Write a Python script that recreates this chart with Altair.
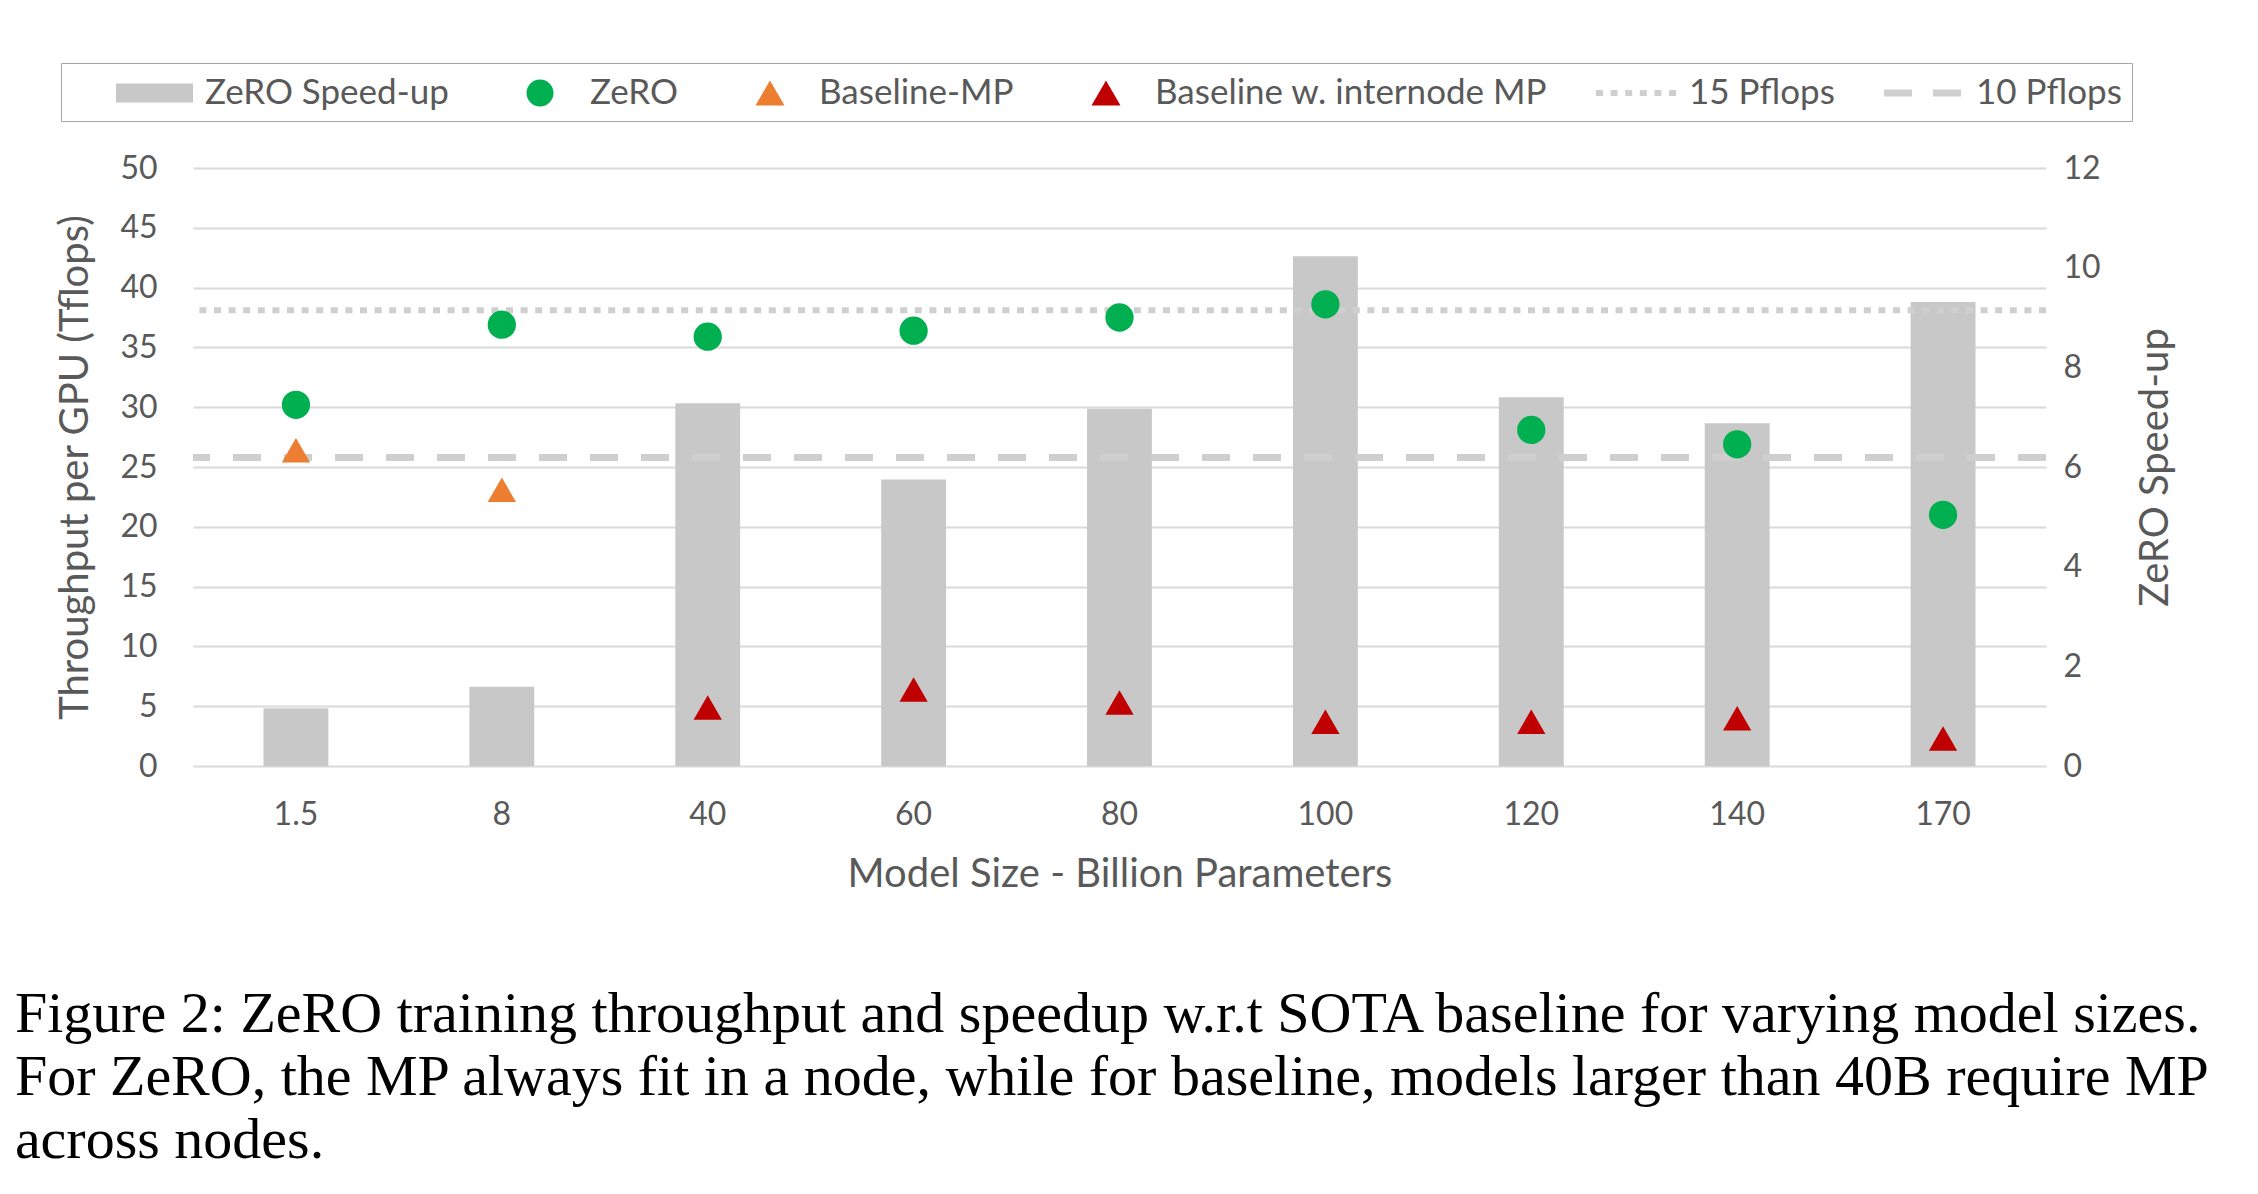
import altair as alt
import pandas as pd

# ---------------- data ----------------
categories = ["1.5", "8", "40", "60", "80", "100", "120", "140", "170"]
speedup = [1.16, 1.59, 7.28, 5.75, 7.17, 10.23, 7.40, 6.88, 9.31]
zero_tflops = [30.2, 36.9, 35.9, 36.4, 37.5, 38.6, 28.1, 26.9, 21.0]
baseline_mp = [26.4, 23.1, None, None, None, None, None, None, None]
baseline_internode = [None, None, 4.9, 6.4, 5.3, 3.7, 3.7, 4.0, 2.3]
ref_names = ["15 Pflops", "10 Pflops"]
ref_values = [38.1, 25.8]

series_names = ["ZeRO Speed-up", "ZeRO", "Baseline-MP",
                "Baseline w. internode MP", "15 Pflops", "10 Pflops"]
series_colors = ["#C8C8C8", "#00B050", "#ED7D31", "#C00000", "#CFCFCF", "#CFCFCF"]
point_series = ["ZeRO", "Baseline-MP", "Baseline w. internode MP"]
point_colors = ["#00B050", "#ED7D31", "#C00000"]
point_shapes = ["circle", "triangle-up", "triangle-up"]

caption = [
    "Figure 2:  ZeRO training throughput and speedup w.r.t SOTA baseline for varying model sizes.",
    "For ZeRO, the MP always fit in a node, while for baseline, models larger than 40B require MP",
    "across nodes.",
]

# legend glyphs (unit = 20 px; glyphs sit right of the nominal symbol box,
# labels pushed out with labelOffset)
dots = " ".join(f"M{1.05 + 0.73 * i:.2f},-0.15h0.35v0.3h-0.35Z" for i in range(6))
legend_paths = [
    "M1.25,-0.475H5.1V0.475H1.25Z",
    "M3.875,0A0.675,0.675 0 1,1 2.525,0A0.675,0.675 0 1,1 3.875,0Z",
    "M3.25,-0.625L3.975,0.625L2.525,0.625Z",
    "M3.25,-0.625L3.975,0.625L2.525,0.625Z",
    dots,
    "M1.1,-0.17H2.5V0.17H1.1Z M3.55,-0.17H4.95V0.17H3.55Z",
]

# ---------------- tables ----------------
bar_df = pd.DataFrame({"category": categories, "speedup": speedup})
rows = []
for name, vals in zip(point_series, [zero_tflops, baseline_mp, baseline_internode]):
    for c, v in zip(categories, vals):
        if v is not None:
            rows.append({"category": c, "series": name, "value": v})
pt_df = pd.DataFrame(rows)
ref_df = pd.DataFrame({"name": ref_names, "value": ref_values})
legend_df = pd.DataFrame({"series": series_names})

TXT = "#595959"
FONT = "Lato"

x_enc = alt.X(
    "category:N",
    scale=alt.Scale(type="band", domain=categories, paddingInner=0, paddingOuter=0),
    sort=None,
    axis=alt.Axis(labelAngle=0, domain=False, ticks=False, grid=False,
                  labelFontSize=32, labelPadding=33, labelColor=TXT, labelFont=FONT,
                  titleFontSize=40, titlePadding=24, titleColor=TXT, titleFont=FONT,
                  titleFontWeight="normal"),
    title="Model Size - Billion Parameters",
)

bars = alt.Chart(bar_df).mark_bar(color="#C8C8C8", width=alt.RelativeBandSize(0.315)).encode(
    x=x_enc,
    y=alt.Y("speedup:Q", scale=alt.Scale(domain=[0, 12]),
            axis=alt.Axis(orient="right", values=[0, 2, 4, 6, 8, 10, 12], grid=False,
                          domain=False, ticks=False, labelFontSize=32, labelPadding=17,
                          labelColor=TXT, labelFont=FONT, title="ZeRO Speed-up",
                          titleAngle=270, titleBaseline="top", titleFontSize=40,
                          titlePadding=35, titleColor=TXT, titleFont=FONT,
                          titleFontWeight="normal")),
)

dotted = alt.Chart(ref_df).transform_filter(alt.datum.name == "15 Pflops").mark_rule(
    color="#CFCFCF", strokeWidth=6, strokeDash=[7, 7.6]
).encode(y=alt.Y("value:Q", scale=alt.Scale(domain=[0, 50]), axis=None))

dashed = alt.Chart(ref_df).transform_filter(alt.datum.name == "10 Pflops").mark_rule(
    color="#CFCFCF", strokeWidth=7, strokeDash=[28, 23]
).encode(y=alt.Y("value:Q", scale=alt.Scale(domain=[0, 50]), axis=None))

points = alt.Chart(pt_df).mark_point(filled=True, opacity=1, size=800, strokeWidth=0).encode(
    x=x_enc,
    y=alt.Y("value:Q", scale=alt.Scale(domain=[0, 50]),
            axis=alt.Axis(values=list(range(0, 51, 5)), grid=True, gridColor="#D9D9D9",
                          gridWidth=2, domain=False, ticks=False, labelFontSize=32,
                          labelPadding=36, labelColor=TXT, labelFont=FONT,
                          title="Throughput per GPU (Tflops)", titleFontSize=40,
                          titlePadding=24, titleColor=TXT, titleFont=FONT,
                          titleFontWeight="normal")),
    color=alt.Color("series:N", scale=alt.Scale(domain=point_series, range=point_colors), legend=None),
    shape=alt.Shape("series:N", scale=alt.Scale(domain=point_series, range=point_shapes), legend=None),
)

leg = alt.Legend(title=None, orient="none", legendX=-132, legendY=-105, direction="horizontal",
                 columns=6, symbolSize=1600, symbolStrokeWidth=0, labelFontSize=35,
                 labelFont=FONT, labelColor=TXT, labelOffset=94, labelLimit=700,
                 columnPadding=7, padding=10, strokeColor="#A6A6A6", fillColor="white")

legend_layer = alt.Chart(legend_df).transform_filter("false").mark_point(
    filled=True, opacity=1, strokeWidth=0
).encode(
    color=alt.Color("series:N", scale=alt.Scale(domain=series_names, range=series_colors), legend=leg),
    shape=alt.Shape("series:N", scale=alt.Scale(domain=series_names, range=legend_paths), legend=leg),
)

chart = alt.layer(bars, dotted, dashed, points, legend_layer).resolve_scale(
    y="independent", color="independent", shape="independent"
).properties(
    width=1853, height=598,
    padding={"left": 6, "top": 54, "right": 10, "bottom": 10},
    background="white",
    title=alt.Title(text=caption, orient="bottom", anchor="start", frame="bounds",
                    font="Liberation Serif", fontSize=58, fontWeight="normal",
                    color="black", lineHeight=63, offset=92, dx=-41),
).configure_view(stroke=None)

chart.save("out.html", embed_options={"renderer": "svg", "actions": False})
